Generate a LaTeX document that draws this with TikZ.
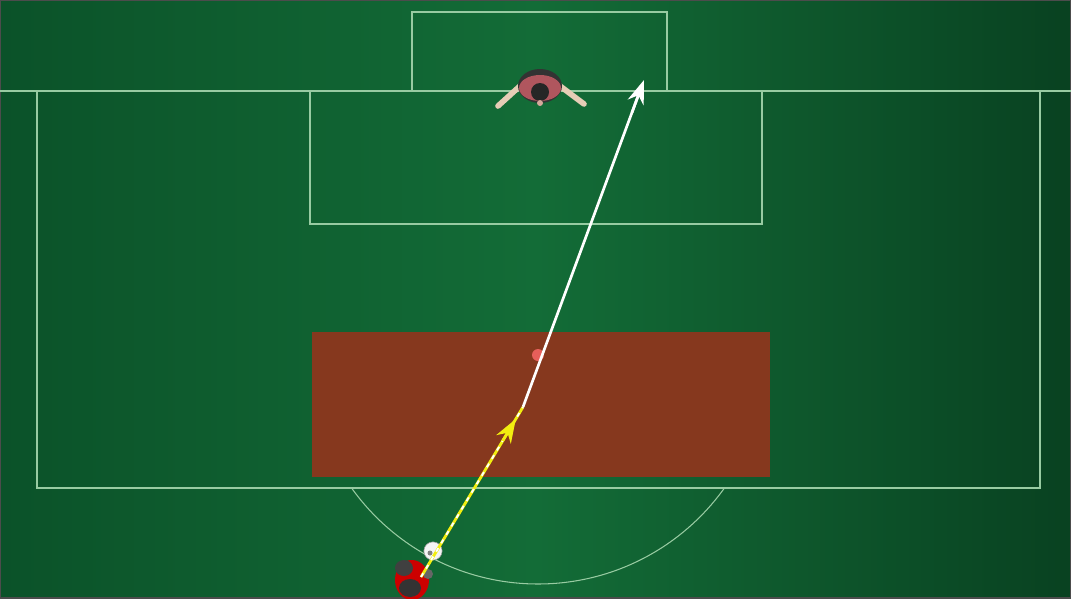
\documentclass[tikz,border=0pt]{standalone}
\usetikzlibrary{arrows.meta,calc}
\definecolor{grassdark}{HTML}{0B5229}
\definecolor{grassmid}{HTML}{136C37}
\definecolor{pitchline}{HTML}{98CBA2}
\definecolor{zonebrown}{HTML}{86381E}
\definecolor{shirtpink}{HTML}{B0565E}
\definecolor{skin}{HTML}{E6CDB6}
\definecolor{passyellow}{HTML}{F2EE10}

\begin{document}
\begin{tikzpicture}
[x=0.025cm,y=-0.025cm,markline/.style={draw=pitchline,line width=0.75pt},zone/.style={fill=zonebrown,draw=none},passline/.style={line width=1.9pt,-{Stealth[length=17pt,width=12pt]}},]
\useasboundingbox (0,0) rectangle (1071,598);
% grass
\shade[left color=grassdark,right color=grassdark!80!black,middle color=grassmid] (0,0) rectangle (1071,598);
\draw[black!70,line width=1.2pt] (0,0) rectangle (1071,598);
% shaded zone in front of the box
\fill[zone] (312,332) rectangle (770,477);
% markings
\draw[markline] (0,91) -- (1071,91);
\draw[markline] (412,91) -- (412,12) -- (667,12) -- (667,91);
\draw[markline] (37,91) rectangle (1040,488);
\draw[markline] (310,91) rectangle (762,224);
\coordinate (spot) at (538,355);
\begin{scope}
\clip (0,488) rectangle (1071,598);
\draw[markline] (spot) circle (229);
\end{scope}
\fill[red!45!pink,opacity=0.8] (spot) circle (6);
% goalkeeper
\node (keeper) at (540,86) {};
\draw[skin,line width=4pt,line cap=round] (520,86) -- (498,106);
\draw[skin,line width=4pt,line cap=round] (560,86) -- (584,104);
\fill[black!80] (keeper) ellipse (22 and 17);
\fill[shirtpink] (540,88) ellipse (21 and 13);
\fill[black!85] (540,92) circle (9);
\fill[skin!70!shirtpink] (540,103) circle (3);
% striker and ball
\node (striker) at (412,580) {};
\fill[red!80!black] (striker) ellipse (17 and 20);
\fill[black!75] (404,568) ellipse (9 and 8);
\fill[black!80] (410,588) ellipse (11 and 9);
\fill[black!60] (428,574) circle (5);
\node[circle,fill=white!92!gray,draw=black!40,inner sep=0pt,minimum size=13pt] (ball) at (433,551) {};
\fill[black!50] (430,553) circle (2.5);
% the pass and the shot
\coordinate (kick) at (421,577);
\coordinate (bend) at (523,407);
\coordinate (target) at (644,80);
\draw[white,line width=1.9pt] (bend) -- ($(bend)!0.95!(target)$);
\draw[passline,white] ($(bend)!0.9!(target)$) -- (target);
\draw[passyellow,line width=2pt] (kick) -- (bend);
\draw[white,line width=1.3pt,dash pattern=on 3pt off 4pt] (kick) -- (bend);
\draw[passline,passyellow] ($(kick)!0.8!(bend)$) -- ($(kick)!0.93!(bend)$);
\end{tikzpicture}
\end{document}
